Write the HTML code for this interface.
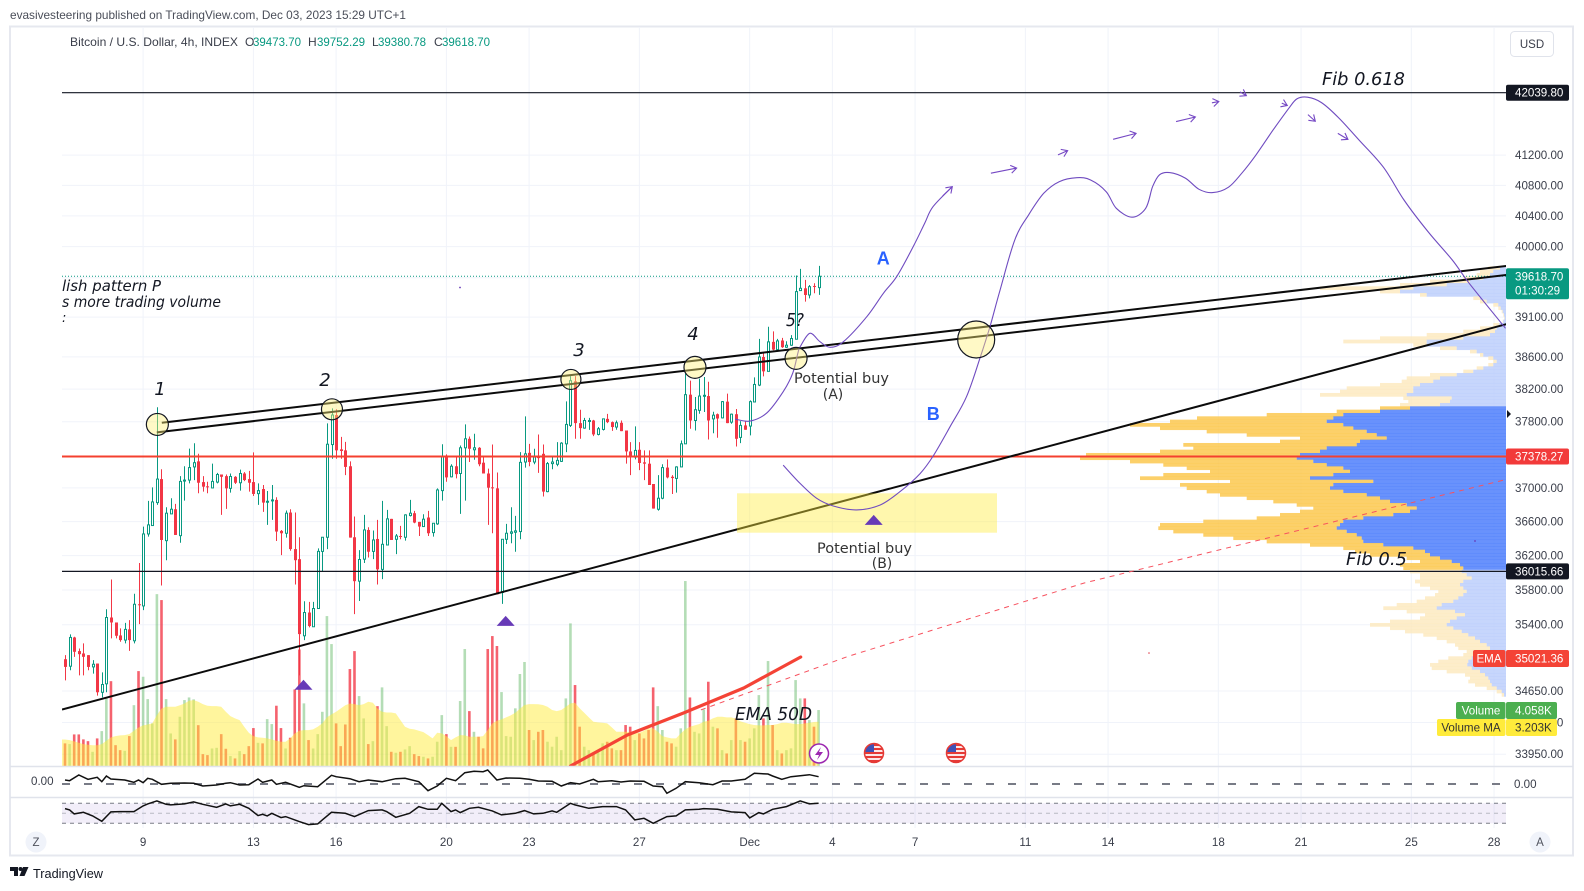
<!DOCTYPE html>
<html lang="en">
<head>
<meta charset="utf-8">
<title>Bitcoin / U.S. Dollar 4h chart</title>
<style>
html,body{margin:0;padding:0;background:#fff;width:1584px;height:891px;overflow:hidden}
svg{position:absolute;left:0;top:0;display:block}
text{font-family:"Liberation Sans",sans-serif}
.ann{font-family:"DejaVu Sans",sans-serif;font-style:italic;fill:#131722}
.note{font-family:"DejaVu Sans",sans-serif;fill:#333}
</style>
</head>
<body>
<svg id="chart" xmlns="http://www.w3.org/2000/svg" width="1584" height="891" viewBox="0 0 1584 891">
  <defs>
    <clipPath id="main-clip"><rect x="62" y="27" width="1444" height="739"/></clipPath>
    <clipPath id="flag-a"><circle cx="874" cy="753" r="9"/></clipPath>
    <clipPath id="flag-b"><circle cx="956" cy="753" r="9"/></clipPath>
  </defs>

  <text x="10" y="19" font-size="12" fill="#4a4e59" textLength="396" lengthAdjust="spacingAndGlyphs">evasivesteering published on TradingView.com, Dec 03, 2023 15:29 UTC+1</text>

  <rect x="10" y="26.5" width="1563" height="829" fill="#fff" stroke="#e6e8ef" stroke-width="2"/>

  <g id="layer-grid"></g>
  <g clip-path="url(#main-clip)">
    <g id="layer-profile"></g>
    <g id="layer-volume"></g>
    <g id="layer-ma"></g>
    <g id="layer-candles"></g>
    <g id="layer-draw"></g>

    <text x="62" y="291" font-size="15" class="ann" textLength="99" lengthAdjust="spacingAndGlyphs">lish pattern P</text>
    <text x="62" y="307" font-size="15" class="ann" textLength="159" lengthAdjust="spacingAndGlyphs">s more trading volume</text>
    <text x="62" y="322" font-size="13" class="ann">:</text>
    <text x="160" y="395" font-size="18" text-anchor="middle" class="ann">1</text>
    <text x="325" y="386" font-size="18" text-anchor="middle" class="ann">2</text>
    <text x="579" y="356" font-size="18" text-anchor="middle" class="ann">3</text>
    <text x="693" y="340" font-size="18" text-anchor="middle" class="ann">4</text>
    <text x="786" y="326" font-size="18" class="ann" textLength="18" lengthAdjust="spacingAndGlyphs">5?</text>
    <text x="1322" y="85" font-size="18" class="ann" textLength="83" lengthAdjust="spacingAndGlyphs">Fib 0.618</text>
    <text x="1346" y="565" font-size="18" class="ann" textLength="61" lengthAdjust="spacingAndGlyphs">Fib 0.5</text>
    <text x="735" y="720" font-size="18" class="ann" textLength="77" lengthAdjust="spacingAndGlyphs">EMA 50D</text>
    <text x="794" y="383" font-size="14" class="note" textLength="95" lengthAdjust="spacingAndGlyphs">Potential buy</text>
    <text x="833" y="399" font-size="14" text-anchor="middle" class="note">(A)</text>
    <text x="817" y="553" font-size="14" class="note" textLength="95" lengthAdjust="spacingAndGlyphs">Potential buy</text>
    <text x="882" y="568" font-size="14" text-anchor="middle" class="note">(B)</text>
    <text x="883.3" y="264.5" font-size="18" font-weight="bold" text-anchor="middle" fill="#2962ff">A</text>
    <text x="933.3" y="420" font-size="18" font-weight="bold" text-anchor="middle" fill="#2962ff">B</text>
    <circle cx="460" cy="287.5" r="0.9" fill="#673ab7"/>
    <circle cx="1149" cy="653" r="0.8" fill="#e2434f"/>
    <circle cx="1475" cy="541" r="0.9" fill="#673ab7"/>
  </g>

  <g id="layer-osc"></g>

  <g>
    <circle cx="819" cy="753.5" r="9.5" fill="#fff" stroke="#9c27b0" stroke-width="1.5"/>
    <polygon points="821,747 815,755 819,755 817,760 823,752 819,752" fill="#9c27b0"/>
  </g>
  <g clip-path="url(#flag-a)">
    <rect x="864" y="743" width="20" height="20" fill="#e53935"/>
    <path d="M864 747h20M864 751h20M864 755h20M864 759h20" stroke="#fff" stroke-width="1.8"/>
    <rect x="864" y="743" width="10" height="9" fill="#3f51b5"/>
  </g>
  <circle cx="874" cy="753" r="9.5" fill="none" stroke="#e53935" stroke-width="1.5"/>
  <g clip-path="url(#flag-b)">
    <rect x="946" y="743" width="20" height="20" fill="#e53935"/>
    <path d="M946 747h20M946 751h20M946 755h20M946 759h20" stroke="#fff" stroke-width="1.8"/>
    <rect x="946" y="743" width="10" height="9" fill="#3f51b5"/>
  </g>
  <circle cx="956" cy="753" r="9.5" fill="none" stroke="#e53935" stroke-width="1.5"/>

  <line x1="10" x2="1573" y1="766.5" y2="766.5" stroke="#e0e3eb" stroke-width="1.5"/>
  <line x1="10" x2="1573" y1="797.5" y2="797.5" stroke="#e0e3eb" stroke-width="1.5"/>

  <g id="layer-labels"></g>

  <text x="70" y="46" font-size="12" fill="#3a3e4a" textLength="168" lengthAdjust="spacingAndGlyphs">Bitcoin / U.S. Dollar, 4h, INDEX</text>
  <text x="245" y="46" font-size="12" fill="#3a3e4a">O</text>
  <text x="253" y="46" font-size="12" fill="#089981" textLength="48" lengthAdjust="spacingAndGlyphs">39473.70</text>
  <text x="308" y="46" font-size="12" fill="#3a3e4a">H</text>
  <text x="317" y="46" font-size="12" fill="#089981" textLength="48" lengthAdjust="spacingAndGlyphs">39752.29</text>
  <text x="372" y="46" font-size="12" fill="#3a3e4a">L</text>
  <text x="378" y="46" font-size="12" fill="#089981" textLength="48" lengthAdjust="spacingAndGlyphs">39380.78</text>
  <text x="434" y="46" font-size="12" fill="#3a3e4a">C</text>
  <text x="442" y="46" font-size="12" fill="#089981" textLength="48" lengthAdjust="spacingAndGlyphs">39618.70</text>

  <rect x="1510.5" y="31.5" width="43" height="25" rx="4" fill="#fff" stroke="#e0e3eb"/>
  <text x="1532" y="48" font-size="11.5" text-anchor="middle" fill="#3a3e4a">USD</text>

  <circle cx="36" cy="842" r="10.5" fill="#f0f3fa"/>
  <text x="36" y="846" font-size="11.5" text-anchor="middle" fill="#50535e">Z</text>
  <circle cx="1540" cy="842" r="10.5" fill="#f0f3fa"/>
  <text x="1540" y="846" font-size="11.5" text-anchor="middle" fill="#50535e">A</text>

  <g fill="#131722">
    <path d="M10 867h8v9h-4v-5h-4z"/>
    <circle cx="20.5" cy="869" r="2"/>
    <path d="M23 867h5.5l-4 9h-5z"/>
  </g>
  <text x="33" y="878" font-size="13" fill="#131722" textLength="70" lengthAdjust="spacingAndGlyphs">TradingView</text>
</svg>

<script>
const opens = [35008,34929,35255,35100,35073,35054,34921,34959,34636,34731,
35483,35426,35278,35225,35347,35217,35635,35616,36454,36553,
36825,37106,36375,36691,36746,36434,37086,37094,37252,37319,
37070,37019,37000,37070,37161,37141,36995,37133,37062,37173,
37106,37070,36932,36987,36829,36849,36857,36490,36462,36707,
36276,36158,35274,35540,35377,35586,36249,36415,37522,37882,
37464,37452,37260,36415,35902,36158,36501,36249,36395,36039,
36324,36632,36391,36430,36415,36671,36699,36596,36541,36648,
36470,36573,36968,37390,37133,37260,
37173,37483,37592,37459,37483,37303,37173,37007,36995,35771,
36391,36462,36474,36482,37311,37422,37311,37370,37410,36956,
37292,37284,37319,37531,37755,38297,37783,37722,37803,37815,
37645,37706,37835,37795,37735,37787,37693,37439,37370,37459,
37307,37291,37047,36746,36877,37244,37134,37114,37252,37531,
38132,37815,37939,38115,38115,37835,37892,37847,38046,37795,
37892,37609,37755,37747,38042,38250,38599,38420,38788,38691,
38805,38721,38746,38821,39436,39465,39380,39495,39473.7];

const highs = [35054,35290,35263,35130,35187,35054,34997,34959,34860,35578,
35921,35426,35358,35422,35453,35757,36114,36541,36845,37007,
37977,37224,36770,36877,36810,37141,37260,37473,37538,37411,
37141,37074,37291,37181,37161,37161,37173,37141,37220,37189,
37205,37427,37055,37035,36964,37035,36889,36501,36731,36746,
36707,36415,35670,35662,35662,36284,36415,37780,37964,37952,
37616,37554,37319,36660,36264,36679,36533,36494,36620,36845,
36738,36632,36454,36549,36687,36857,36727,36596,36687,36727,
36580,36995,37526,37403,37284,37390,
37511,37767,37620,37653,37491,37370,37232,37523,37185,36391,
36573,36770,36667,37430,37865,37531,37471,37645,37523,37311,
37370,37552,37551,38049,38361,38361,37947,37847,37847,37823,
37735,37835,37896,37803,37815,37815,37693,37551,37743,37551,
37451,37451,37047,37153,37284,37343,37153,37260,37572,38390,
38305,38103,38330,38350,38292,37922,37900,38054,38144,37900,
37955,37807,37807,38062,38345,38826,38650,38978,38920,38826,
38838,38796,38872,39628,39714,39572,39508,39530,39752.29];

const lows = [34769,34883,35035,34826,34826,34883,34845,34598,34579,34636,
35244,35244,35206,35187,35103,35187,35407,35567,36422,36553,
36798,35852,36146,36691,36442,36351,36849,37055,37094,36936,
36956,36936,36995,37055,36679,36750,36944,37047,36968,37082,
36956,36904,36798,36715,36561,36620,36371,36205,36411,36257,
35863,34826,35225,35370,35377,35586,36012,36276,37350,37350,
37350,37153,36411,35521,35673,36114,36178,36158,35863,35925,
36324,36383,36217,36391,36375,36660,36580,36430,36541,36430,
36422,36561,36849,37074,37126,37114,
36691,36849,37311,37339,37260,37173,36561,36462,35751,35640,
36336,36344,36245,36391,37244,37260,37284,37181,36897,36948,
37224,37260,37311,37430,37735,37592,37592,37714,37701,37625,
37633,37693,37783,37689,37702,37685,37291,37153,37343,37213,
37094,37035,36754,36730,36865,37114,36928,36944,37252,37531,
37714,37693,37898,37919,37584,37660,37604,37839,37783,37775,
37499,37539,37702,37633,38042,38238,38358,38420,38683,38691,
38712,38712,38738,38821,39431,39295,39337,39402,39380.78];

const closes = [34921,35255,35092,35065,35035,34921,34951,34636,34723,35483,
35426,35274,35225,35347,35225,35635,35624,36454,36561,36833,
37106,36383,36699,36746,36442,37078,37094,37244,37303,37062,
37015,37011,37078,37161,37133,36995,37137,37062,37173,37094,
37062,36928,36968,36825,36841,36857,36482,36462,36699,36276,
36146,35293,35540,35385,35586,36249,36415,37526,37882,37452,
37444,37252,36411,35902,36154,36501,36245,36383,36039,36332,
36632,36383,36430,36422,36679,36699,36588,36541,36628,36462,
36580,36976,37378,37126,37260,37165,
37483,37592,37471,37483,37284,37173,37003,36995,35751,36391,
36462,36478,36490,37307,37410,37311,37370,37359,36956,37292,
37311,37331,37539,37767,38305,37783,37722,37815,37815,37645,
37714,37835,37795,37735,37787,37685,37439,37370,37451,37299,
37291,37035,36754,36877,37244,37126,37118,37252,37531,38132,
37815,37947,38115,38124,37815,37880,37839,38046,37783,37892,
37592,37755,37702,38046,38258,38599,38420,38788,38691,38800,
38721,38746,38830,39423,39465,39380,39486,39486,39618.7];

const volumes = [1.64,1.59,2.29,2.29,1.93,1.80,1.03,2.00,2.53,4.90,
6.15,1.51,1.15,1.10,2.17,4.41,6.88,6.47,4.85,3.09,
12.46,12.03,4.85,2.36,1.93,3.57,4.78,4.97,4.83,2.96,
.86,.79,1.27,1.32,2.31,1.25,.72,.55,1.08,.86,
1.44,2.75,1.68,1.64,3.40,3.04,4.37,2.75,1.27,2.05,
5.55,8.45,4.54,1.88,1.27,2.31,3.93,10.87,8.84,3.09,
1.44,3.01,7.03,8.33,5.07,3.45,1.59,1.80,4.34,5.70,
2.89,1.03,.96,1.03,1.20,1.44,.86,.72,.67,.55,
.67,1.76,3.69,2.31,1.39,1.39,
4.71,8.48,3.98,2.48,2.12,1.28,8.48,9.42,8.70,5.36,
2.17,2.12,4.18,6.67,7.54,2.61,1.88,2.48,2.61,1.76,
1.40,2.12,1.15,4.90,10.34,5.87,2.85,1.40,1.15,.91,
1.15,1.64,1.76,1.28,1.15,1.15,2.97,2.85,1.88,2.36,
2.00,2.61,5.70,4.34,2.61,1.76,1.64,1.40,2.73,13.41,
4.97,2.48,2.36,4.10,6.11,2.85,2.73,1.15,.91,1.88,
3.45,1.88,1.76,2.00,2.73,5.14,3.45,7.61,2.97,1.15,
.91,1.15,1.28,6.23,4.90,4.90,3.33,2.85,4.058];

const volumeMA = [1.92,1.88,1.78,1.68,1.59,1.54,1.51,1.51,1.59,1.83,
2.07,2.17,2.22,2.24,2.31,2.55,2.79,2.94,3.01,3.09,
3.69,4.17,4.29,4.29,4.29,4.41,4.53,4.73,4.78,4.66,
4.49,4.37,4.34,4.34,4.29,3.93,3.62,3.45,3.33,2.84,
2.41,2.17,2.07,2.05,2.00,1.92,1.83,1.76,1.76,2.00,
2.36,2.55,2.60,2.60,2.65,2.84,3.09,3.52,3.74,3.93,
4.17,4.41,4.53,4.49,4.41,4.49,4.66,4.58,4.17,3.93,
3.88,3.88,3.81,3.33,2.84,2.70,2.65,2.55,2.46,2.24,
2.00,2.41,2.36,2.17,1.88,2.07,
2.24,2.22,2.12,2.12,2.12,2.17,2.60,3.09,3.28,3.38,
3.52,3.67,3.86,4.15,4.42,4.49,4.49,4.47,4.42,4.30,
4.06,3.98,4.06,4.30,4.54,4.59,4.18,3.86,3.52,3.21,
3.16,3.14,3.09,2.80,2.48,2.48,2.48,2.46,2.41,2.41,
2.56,2.73,2.73,2.48,2.17,2.07,2.00,2.00,2.36,2.65,
2.85,2.94,3.04,3.21,3.28,3.45,3.57,3.57,3.52,3.52,
3.43,3.23,3.14,3.04,2.97,2.94,2.94,2.97,2.97,3.04,
3.14,3.14,3.09,3.04,3.04,3.09,3.14,3.19,3.203];

const macdBars = [0,1,3,5,7,8,9,10,13,15,16,17,18,19,21,23,26,28,30,33,35,36,38,40,42,43,45,46,48,51,52,55,58,59,62,64,66,69,72,74,77,79,81,83,85,87,89,91,92,94,96,99,101,103,106,108,110,112,115,116,119,121,123,126,128,130,131,133,135,138,141,143,145,148,150,153,154,156,158,162,164];
const macdValues = [96,80,216,112,160,56,192,120,96,40,96,32,136,112,-8,16,24,16,-48,-24,16,32,-24,-16,120,40,96,-8,40,-80,-40,-64,208,176,128,56,96,56,128,136,56,-160,-48,136,80,272,304,296,336,96,144,136,112,72,64,-48,32,0,112,56,80,48,72,64,-48,-64,-224,-104,56,32,-16,72,72,112,256,240,192,112,176,224,176];

const rsiBars = [0,1,2,4,6,8,10,12,15,17,18,20,22,23,26,28,30,33,35,36,38,40,42,43,44,45,47,48,51,53,55,56,58,61,63,66,69,70,72,75,77,79,81,82,84,85,86,88,90,93,95,98,100,102,104,106,107,110,111,114,117,120,122,124,126,128,131,133,135,138,139,142,145,148,149,151,152,154,157,160,162,164];
const rsiValues = [59.3,56.7,48.7,52,44.7,34,52.7,53.3,53.3,64.7,68.7,74.7,68,66.7,68.7,72.7,68,62,68.7,64.7,68,60,45.3,48,44.7,50,41.3,43.3,33.3,27.3,28.7,36.7,52,50,43.3,55.3,56.7,53.3,42,50,63.3,58,58,70,53.3,56.7,51.3,60,62,54.7,46.7,50,55.3,48.7,50,54.7,52,70,66.7,60,63.3,63.3,56.7,36.7,40,30,43.3,44.7,56.7,58,59.3,58,52.7,51.3,40.7,51.3,48.7,58,63.3,74.7,68.7,70];

const vpTotal = [17.7,26,29.3,42.7,76,106,186,126,86,32.7,26,12.7,7.7,4.3,2.7,2,3.3,12.7,26,42.7,79.3,126,162.7,92.7,66,36,26,17.7,12.7,17.7,29.3,42.7,76,99.3,104.3,126,159.3,166,186,102.7,97.7,106,
126,169.3,239.3,309,336,376,346,299.3,259.3,206,226,322.7,312.7,346,420,426,376,342.7,319.3,296,342.7,366,276,326,319.3,299.3,286,259.3,232.7,209.3,192.7,206,226,249.3,302.7,346,347.7,332.7,302.7,272.7,239.3,196,162.7,151,136,99.3,86,106,102.7,
96,86,86,91,86,76,67.7,71,81,89.3,109.3,122.7,99.3,81,86,116,136,116,101,82.7,69.3,59.3,51,47.7,39.3,42.7,57.7,67.7,76,74.3,59.3,41,36,37.7,31,19.3,9.3,4.3];
const vpUp = [6,12.7,16,22.7,36,59.3,92.7,106,79.3,26,19.3,7.7,5.3,3.3,2,1.3,2.7,6.7,9.3,11,16,42.7,79.3,79.3,49.3,29.3,22.7,12.7,9.3,12.7,22.7,32.7,49.3,66,72.7,86,92.7,92.7,99.3,54.3,56,66,
96,126,162.7,172.7,179.3,162.7,152.7,139.3,129.3,119.3,146,149.3,179.3,186,206,209.3,192.7,179.3,162.7,156,172.7,196,132.7,172.7,176,162.7,139.3,126,116,99.3,89.3,96,112.7,142.7,162.7,166,169.3,159.3,149.3,144.3,142.7,122.7,92.7,81,76,66,54.3,46,42.7,
44.3,39.3,34.3,42.7,46,42.7,39.3,42.7,47.7,52.7,64.3,69.3,51,41,49.3,56,59.3,52.7,44.3,37.7,31,26,19.3,16,16,24.3,34.3,37.7,38.7,34.3,26,21,17.7,16,14.3,9.3,4.3,2];

const priceTicks = [41200,40800,40400,40000,39600,39100,38600,38200,37800,37000,36600,36200,35800,35400,34650,34300,33950];
const timeTickBars = [17,41,59,83,101,125,149,167,185,209,227,251,269,293,311];
const timeTickLabels = ['9','13','16','20','23','27','Dec','4','7','11','14','18','21','25','28'];

const fib618Price = 42039.80;
const keyLevelPrice = 37378.27;
const fib05Price = 36015.66;
const lastPrice = 39618.70;
const emaPrice = 35021.36;

const upperChannelBars = [21.07,313.9];
const upperChannelPrices = [37787,39752];
const lowerChannelBars = [19.98,313.9];
const lowerChannelPrices = [37670,39637];
const supportBars = [-0.65,313.9];
const supportPrices = [34444,39014];
const emaBars = [110,122.4,134.6,147.7,160.1];
const emaPrices = [33821,34161,34405,34684,35033];
const emaDashBars = [138.4,170.4,221.8,314];
const emaDashPrices = [34439,35040,35881,37106];
const pathABars = [145.8,149.1,152.7,156.3,158.4,159.5,160,162.1,164.3,166.5,169.4,174.5,178.1,181,184.6,187.1,188.9,193.1];
const pathAPrices = [37832,37808,37906,38168,38401,38649,38727,38896,38790,38720,38790,39105,39402,39614,40000,40304,40520,40783];
const pathBBars = [156.3,160,163.6,167.2,172.3,177.4,181.7,186.1,189,192.6,196.2,199.1,201.3,203.5,206.7,209.7,213,216.4,220.2,223.2,226.6,228.8,232.2,235.2,236.7,238.2,240.4,243.8,246.8,249.8,253.2,256.1,259.2,262.9,266.3,268.1,270.4,273.4,277.2,281.6,286.9,291.4,296.6,301.9,305.6,313.5];
const pathBPrices = [37274,37053,36876,36785,36738,36797,36955,37172,37390,37738,38107,38583,38980,39443,40087,40412,40695,40849,40901,40871,40717,40499,40382,40499,40783,40939,40969,40895,40748,40704,40775,40961,41203,41535,41824,41956,41979,41907,41699,41402,41041,40607,40196,39829,39529,38958];
const arrowStartBars = [191,201.5,216.1,228.1,241.8,249.6,255.7,264.8,270.5,277];
const arrowEndBars = [193.1,207.1,218.2,233.1,246,251.1,257.1,266,272.1,279.2];
const arrowStartPrices = [40660,40961,41203,41411,41650,41903,42050,41899,41743,41491];
const arrowEndPrices = [40783,41028,41260,41491,41711,41920,42000,41867,41654,41411];
const circleBars = [20.1,58.1,110.1,137.1,159.1,198.3];
const circlePrices = [37767,37952,38320,38470,38582,38818];
const circleRadii = [11,10.5,10,11,11,18.5];
const triangleBars = [51.9,95.9,176];
const trianglePrices = [34720,35445,36620];

const NS = 'http://www.w3.org/2000/svg';
const plotRight = 1506;
function xOf(bar){ return 65 + 4.595 * bar; }
function yOf(price){ return 92.7 + 3095 * Math.log(42039.8 / price); }
function volY(v){ return 766 - v / 0.0725; }
function macdY(v){ return 784 - v / 24; }
function rsiY(v){ return 813.3 - (v - 50) * 0.5; }
function mk(parent, tag, attrs, txt){
  const n = document.createElementNS(NS, tag);
  for (const k in attrs) n.setAttribute(k, attrs[k]);
  if (txt !== undefined) n.textContent = txt;
  parent.appendChild(n);
  return n;
}
function smooth(pts){
  let d = 'M' + pts[0][0].toFixed(1) + ' ' + pts[0][1].toFixed(1);
  for (let i = 0; i < pts.length - 1; i++){
    const p0 = pts[Math.max(i-1,0)], p1 = pts[i], p2 = pts[i+1], p3 = pts[Math.min(i+2,pts.length-1)];
    const c1x = p1[0] + (p2[0]-p0[0])/6, c1y = p1[1] + (p2[1]-p0[1])/6;
    const c2x = p2[0] - (p3[0]-p1[0])/6, c2y = p2[1] - (p3[1]-p1[1])/6;
    d += 'C' + c1x.toFixed(1) + ' ' + c1y.toFixed(1) + ' ' + c2x.toFixed(1) + ' ' + c2y.toFixed(1) + ' ' + p2[0].toFixed(1) + ' ' + p2[1].toFixed(1);
  }
  return d;
}
function polyPts(bars, prices){
  return bars.map(function(b,i){ return [xOf(b), yOf(prices[i])]; });
}
function polyAttr(pts){
  return pts.map(function(p){ return p[0].toFixed(1) + ',' + p[1].toFixed(1); }).join(' ');
}

const gridLayer = document.getElementById('layer-grid');
const profileLayer = document.getElementById('layer-profile');
const volumeLayer = document.getElementById('layer-volume');
const maLayer = document.getElementById('layer-ma');
const candleLayer = document.getElementById('layer-candles');
const drawLayer = document.getElementById('layer-draw');
const oscLayer = document.getElementById('layer-osc');
const labelLayer = document.getElementById('layer-labels');

/* grid */
priceTicks.forEach(function(p){
  const g = mk(gridLayer, 'line', {x1:62, x2:plotRight, y1:yOf(p), y2:yOf(p), stroke:'#f0f3fa', 'stroke-width':1});
  
  
});
timeTickBars.forEach(function(b){
  const g = mk(gridLayer, 'line', {x1:xOf(b), x2:xOf(b), y1:27, y2:828, stroke:'#f0f3fa', 'stroke-width':1});
  
  
});

/* volume profile */
const vpTopPrice = 39725;
const vpLogStep = 3.3333 / 3095;
const vaFirst = 42, vaLast = 90;
vpTotal.forEach(function(total, k){
  const y = yOf(vpTopPrice * Math.exp(-k * vpLogStep)) - 1.67;
  const inVA = k >= vaFirst && k <= vaLast;
  const up = vpUp[k];
  const outer = mk(profileLayer, 'rect', {x:plotRight-total, y:y, width:total-up, height:3.75, fill: inVA ? '#fbc850' : '#fde9bd', 'fill-opacity': inVA ? .85 : .8});
  
  
  const inner = mk(profileLayer, 'rect', {x:plotRight-up, y:y, width:up, height:3.75, fill: inVA ? '#4f7ffb' : '#b9ccfb', 'fill-opacity': inVA ? .85 : .8});
  
  
});

/* volume bars */
volumes.forEach(function(v, i){
  const up = closes[i] >= opens[i];
  const b = mk(volumeLayer, 'rect', {x:xOf(i)-1.3, y:volY(v), width:2.6, height:766-volY(v), fill: up ? 'rgba(76,175,80,.42)' : 'rgba(242,54,69,.78)'});
  
  
});

/* volume moving average area */
const maTop = volumeMA.map(function(v,i){ return [xOf(i), volY(v)]; });
const maPts = maTop.concat([[xOf(volumeMA.length-1),766],[xOf(0)-3,766],[xOf(0)-3,maTop[0][1]]]);
const maArea = mk(maLayer, 'polygon', {points:polyAttr(maPts), fill:'rgba(255,235,59,.5)'});



/* candles */
opens.forEach(function(o, i){
  const c = closes[i], up = c >= o, col = up ? '#089981' : '#f23645', x = Math.round(xOf(i));
  const wick = mk(candleLayer, 'line', {x1:x+.5, x2:x+.5, y1:yOf(highs[i]), y2:yOf(lows[i]), stroke:col, 'stroke-width':1});
  
  
  const top = yOf(Math.max(o,c)), bot = yOf(Math.min(o,c));
  const body = mk(candleLayer, 'rect', up
    ? {x:x-.5, y:top, width:2, height:Math.max(bot-top,1), fill:'#fff', stroke:col, 'stroke-width':1}
    : {x:x-1, y:top, width:3, height:Math.max(bot-top,1), fill:col});
  
  
});

/* horizontal levels */
const lastLine = mk(drawLayer, 'line', {x1:62, x2:plotRight, y1:yOf(lastPrice), y2:yOf(lastPrice), stroke:'#089981', 'stroke-width':1, 'stroke-dasharray':'1 2'});


const fibTop = mk(drawLayer, 'line', {x1:62, x2:plotRight, y1:yOf(fib618Price), y2:yOf(fib618Price), stroke:'#131722', 'stroke-width':1.2});


const fibMid = mk(drawLayer, 'line', {x1:62, x2:plotRight, y1:yOf(fib05Price), y2:yOf(fib05Price), stroke:'#131722', 'stroke-width':1.2});


const keyLine = mk(drawLayer, 'line', {x1:62, x2:plotRight, y1:yOf(keyLevelPrice), y2:yOf(keyLevelPrice), stroke:'#f4402f', 'stroke-width':2});



/* trend lines */
const up1 = polyPts(upperChannelBars, upperChannelPrices);
const tl1 = mk(drawLayer, 'line', {x1:up1[0][0], y1:up1[0][1], x2:up1[1][0], y2:up1[1][1], stroke:'#0b0b0b', 'stroke-width':2});


const lo1 = polyPts(lowerChannelBars, lowerChannelPrices);
const tl2 = mk(drawLayer, 'line', {x1:lo1[0][0], y1:lo1[0][1], x2:lo1[1][0], y2:lo1[1][1], stroke:'#0b0b0b', 'stroke-width':2});


const su1 = polyPts(supportBars, supportPrices);
const tl3 = mk(drawLayer, 'line', {x1:su1[0][0], y1:su1[0][1], x2:su1[1][0], y2:su1[1][1], stroke:'#0b0b0b', 'stroke-width':2});



/* buy zone */
const zone = mk(drawLayer, 'rect', {x:737, y:493.3, width:260, height:39.4, fill:'rgba(255,235,59,.42)'});



/* EMA */
const emaDash = mk(drawLayer, 'polyline', {points:polyAttr(polyPts(emaDashBars, emaDashPrices)), fill:'none', stroke:'#f7525f', 'stroke-width':1, 'stroke-dasharray':'5 5'});


const emaLine = mk(drawLayer, 'polyline', {points:polyAttr(polyPts(emaBars, emaPrices)), fill:'none', stroke:'#f44336', 'stroke-width':3.2, 'stroke-linecap':'round'});



/* projected paths */
const pathA = mk(drawLayer, 'path', {d:smooth(polyPts(pathABars, pathAPrices)), fill:'none', stroke:'#6f4bc0', 'stroke-width':1.1});


const pathB = mk(drawLayer, 'path', {d:smooth(polyPts(pathBBars, pathBPrices)), fill:'none', stroke:'#6f4bc0', 'stroke-width':1.1});



arrowStartBars.forEach(function(b, i){
  const x1 = xOf(b), y1 = yOf(arrowStartPrices[i]), x2 = xOf(arrowEndBars[i]), y2 = yOf(arrowEndPrices[i]);
  const ang = Math.atan2(y2-y1, x2-x1), s = 7;
  const hx1 = x2 - s*Math.cos(ang-.6), hy1 = y2 - s*Math.sin(ang-.6);
  const hx2 = x2 - s*Math.cos(ang+.6), hy2 = y2 - s*Math.sin(ang+.6);
  const a = mk(drawLayer, 'path', {d:'M'+x1+' '+y1+'L'+x2+' '+y2+'M'+hx1+' '+hy1+'L'+x2+' '+y2+'L'+hx2+' '+hy2, fill:'none', stroke:'#7548c4', 'stroke-width':1.1});
  
  
});

/* wave circles */
circleBars.forEach(function(b, i){
  const c = mk(drawLayer, 'circle', {cx:xOf(b), cy:yOf(circlePrices[i]), r:circleRadii[i], fill:'rgba(255,241,118,.42)', stroke:'#131722', 'stroke-width':1.2});
  
  
});

/* triangles */
triangleBars.forEach(function(b, i){
  const x = xOf(b), y = yOf(trianglePrices[i]);
  const t = mk(drawLayer, 'polygon', {points:(x-9)+','+(y+5)+' '+x+','+(y-5)+' '+(x+9)+','+(y+5), fill:'#673ab7'});
  
  
});

/* MACD pane */
const zeroLine = mk(oscLayer, 'line', {x1:62, x2:1502, y1:macdY(0), y2:macdY(0), stroke:'#787b86', 'stroke-width':2, 'stroke-dasharray':'8 14'});


const macdLine = mk(oscLayer, 'polyline', {points:macdBars.map(function(b,i){ return xOf(b).toFixed(1)+','+macdY(macdValues[i]).toFixed(1); }).join(' '), fill:'none', stroke:'#111', 'stroke-width':1.5});



/* RSI pane */
const band = mk(oscLayer, 'rect', {x:62, y:rsiY(70), width:plotRight-62, height:rsiY(30)-rsiY(70), fill:'rgba(126,87,194,.1)'});


[70,50,30].forEach(function(level){
  const l = mk(oscLayer, 'line', {x1:62, x2:plotRight, y1:rsiY(level), y2:rsiY(level), stroke: level===50 ? '#b8b9c2' : '#787b86', 'stroke-width':1, 'stroke-dasharray':'4 4'});
  
  
});
const rsiLine = mk(oscLayer, 'polyline', {points:rsiBars.map(function(b,i){ return xOf(b).toFixed(1)+','+rsiY(rsiValues[i]).toFixed(1); }).join(' '), fill:'none', stroke:'#111', 'stroke-width':1.5});



/* axis labels */
priceTicks.forEach(function(p){
  const t = mk(labelLayer, 'text', {x:1515, y:yOf(p)+4, 'font-size':11.6, fill:'#3a3e4a'}, p.toFixed(2));
  
  
});
timeTickBars.forEach(function(b, i){
  const t = mk(labelLayer, 'text', {x:xOf(b), y:846, 'font-size':11.6, fill:'#3a3e4a', 'text-anchor':'middle'}, timeTickLabels[i]);
  
  
});
const leftZero = mk(labelLayer, 'text', {x:31, y:macdY(0)+1, 'font-size':11.6, fill:'#3a3e4a'}, '0.00');


const rightZero = mk(labelLayer, 'text', {x:1514, y:macdY(0)+4, 'font-size':11.6, fill:'#3a3e4a'}, '0.00');



const fibTopBox = mk(labelLayer, 'rect', {x:1506, y:yOf(fib618Price)-8, width:63, height:16, rx:2, fill:'#131722'});


const fibTopText = mk(labelLayer, 'text', {x:1515, y:yOf(fib618Price)+4, 'font-size':11.6, fill:'#fff'}, fib618Price.toFixed(2));



const keyBox = mk(labelLayer, 'rect', {x:1506, y:yOf(keyLevelPrice)-8, width:63, height:16, rx:2, fill:'#f23a3a'});


const keyText = mk(labelLayer, 'text', {x:1515, y:yOf(keyLevelPrice)+4, 'font-size':11.6, fill:'#fff'}, keyLevelPrice.toFixed(2));



const fibMidBox = mk(labelLayer, 'rect', {x:1506, y:yOf(fib05Price)-8, width:63, height:16, rx:2, fill:'#131722'});


const fibMidText = mk(labelLayer, 'text', {x:1515, y:yOf(fib05Price)+4, 'font-size':11.6, fill:'#fff'}, fib05Price.toFixed(2));



const lastBox = mk(labelLayer, 'rect', {x:1506, y:yOf(lastPrice)-8, width:63, height:31, rx:2, fill:'#089981'});


const lastText = mk(labelLayer, 'text', {x:1515, y:yOf(lastPrice)+4, 'font-size':11.6, fill:'#fff'}, lastPrice.toFixed(2));


const countdown = mk(labelLayer, 'text', {x:1515, y:yOf(lastPrice)+18, 'font-size':11.6, fill:'#fff'}, '01:30:29');



const emaNameBox = mk(labelLayer, 'rect', {x:1473, y:650, width:32.5, height:17, rx:2, fill:'#f44336'});


const emaName = mk(labelLayer, 'text', {x:1489, y:662.5, 'font-size':11.6, fill:'#fff', 'text-anchor':'middle'}, 'EMA');


const emaValBox = mk(labelLayer, 'rect', {x:1506, y:650, width:63, height:17, rx:2, fill:'#f44336'});


const emaVal = mk(labelLayer, 'text', {x:1515, y:662.5, 'font-size':11.6, fill:'#fff'}, emaPrice.toFixed(2));



const volNameBox = mk(labelLayer, 'rect', {x:1456, y:702, width:49.5, height:17, rx:2, fill:'#4caf50'});


const volName = mk(labelLayer, 'text', {x:1481, y:714.5, 'font-size':11.6, fill:'#fff', 'text-anchor':'middle'}, 'Volume');


const volValBox = mk(labelLayer, 'rect', {x:1506, y:702, width:51, height:17, rx:2, fill:'#4caf50'});


const volVal = mk(labelLayer, 'text', {x:1515, y:714.5, 'font-size':11.6, fill:'#fff'}, volumes[volumes.length-1].toFixed(3) + 'K');



const maNameBox = mk(labelLayer, 'rect', {x:1437, y:719, width:68.5, height:17, rx:2, fill:'#ffeb3b'});


const maName = mk(labelLayer, 'text', {x:1471, y:731.5, 'font-size':11.6, fill:'#333', 'text-anchor':'middle'}, 'Volume MA');


const maValBox = mk(labelLayer, 'rect', {x:1506, y:719, width:51, height:17, rx:2, fill:'#ffeb3b'});


const maVal = mk(labelLayer, 'text', {x:1515, y:731.5, 'font-size':11.6, fill:'#333'}, volumeMA[volumeMA.length-1].toFixed(3) + 'K');



const diamond = mk(labelLayer, 'polygon', {points:'1507,410 1511,414 1507,418', fill:'#131722'});


</script>
</body>
</html>
